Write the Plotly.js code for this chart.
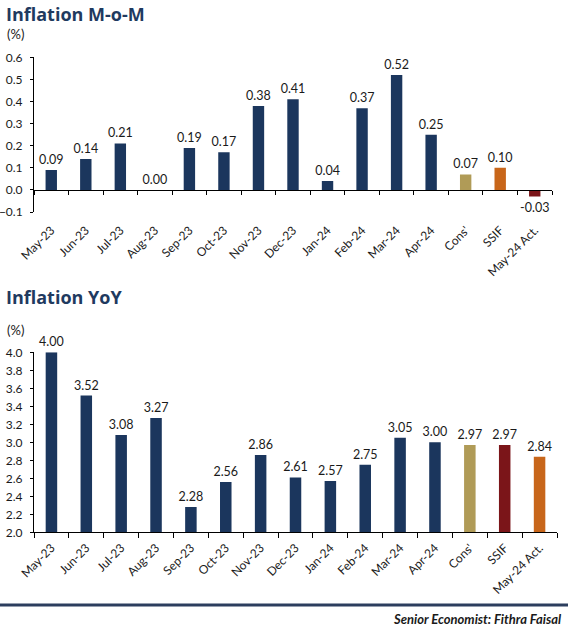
<!DOCTYPE html>
<html>
<head>
<meta charset="utf-8">
<script src="https://cdn.plot.ly/plotly-3.0.1.min.js"></script>
<style>
html,body{margin:0;padding:0;background:#fff;}
#chart{width:579px;height:629px;}
</style>
</head>
<body>
<div id="chart"></div>
<script>
// ---- data ----
const categories = ["May-23","Jun-23","Jul-23","Aug-23","Sep-23","Oct-23","Nov-23","Dec-23","Jan-24","Feb-24","Mar-24","Apr-24","Cons'","SSIF","May-24 Act."];
const momValues = [0.09,0.14,0.21,0.00,0.19,0.17,0.38,0.41,0.04,0.37,0.52,0.25,0.07,0.10,-0.03];
const yoyValues = [4.00,3.52,3.08,3.27,2.28,2.56,2.86,2.61,2.57,2.75,3.05,3.00,2.97,2.97,2.84];
const momColors = ["#1B365D","#1B365D","#1B365D","#1B365D","#1B365D","#1B365D","#1B365D","#1B365D","#1B365D","#1B365D","#1B365D","#1B365D","#B09B57","#C8661A","#7B1519"];
const yoyColors = ["#1B365D","#1B365D","#1B365D","#1B365D","#1B365D","#1B365D","#1B365D","#1B365D","#1B365D","#1B365D","#1B365D","#1B365D","#B09B57","#7B1519","#C8661A"];
const momRange = [-0.1, 0.6];
const yoyRange = [2.0, 4.0];

// ---- layout geometry (pixels) ----
const W = 579, H = 629;
const px = v => v / W;
const py = v => 1 - v / H;
const topDomY = [py(212), py(57.3)];
const botDomY = [py(532.3), py(352.3)];
const topDomX = [px(34), px(552)];
const botDomX = [px(34), px(557)];
const zeroPos = topDomY[0] + (0 - momRange[0]) / (momRange[1] - momRange[0]) * (topDomY[1] - topDomY[0]);

const tickFont = {family: "Lato, 'Open Sans', sans-serif", size: 12, color: "#1a1a1a"};
const labelFont = {family: "Lato, 'Open Sans', sans-serif", size: 12.5, color: "#1a1a1a"};
const titleColor = "#1F3A5F";

const traces = [
  {
    type: "bar", x: categories, y: momValues, xaxis: "x", yaxis: "y",
    marker: {color: momColors, line: {width: 0}},
    texttemplate: "%{y:.2f}", textposition: "outside", textfont: labelFont,
    constraintext: "none", cliponaxis: false, hoverinfo: "skip", showlegend: false
  },
  {
    type: "scatter", mode: "none", x: categories, y: momValues, xaxis: "x3", yaxis: "y",
    hoverinfo: "skip", showlegend: false
  },
  {
    type: "bar", x: categories, y: yoyValues, xaxis: "x2", yaxis: "y2",
    marker: {color: yoyColors, line: {width: 0}},
    texttemplate: "%{y:.2f}", textposition: "outside", textfont: labelFont,
    constraintext: "none", cliponaxis: false, hoverinfo: "skip", showlegend: false
  }
];

const catRange = [-0.5, categories.length - 0.5];

const layout = {
  width: W, height: H,
  margin: {l: 0, r: 0, t: 0, b: 0, pad: 0},
  paper_bgcolor: "#ffffff", plot_bgcolor: "#ffffff",
  bargap: 0.67,
  showlegend: false,
  font: tickFont,
  xaxis: {
    domain: topDomX, anchor: "y", type: "category", categoryorder: "array", categoryarray: categories,
    range: catRange, showline: false, ticks: "", showgrid: false, zeroline: false,
    tickangle: -45, tickfont: tickFont, ticklabelstandoff: 8, fixedrange: true
  },
  xaxis3: {
    domain: topDomX, anchor: "free", overlaying: "x", position: zeroPos,
    type: "category", categoryorder: "array", categoryarray: categories, range: catRange,
    showline: true, linecolor: "#000", linewidth: 1, ticks: "outside", tickson: "boundaries",
    ticklen: 4, tickcolor: "#000", showticklabels: false, showgrid: false, zeroline: false
  },
  yaxis: {
    domain: topDomY, anchor: "x", range: momRange, dtick: 0.1, tick0: 0, tickformat: ".1f",
    showline: true, linecolor: "#000", linewidth: 1, ticks: "outside", ticklen: 3, tickcolor: "#000",
    showgrid: false, zeroline: false, tickfont: tickFont, ticklabelstandoff: 5
  },
  xaxis2: {
    domain: botDomX, anchor: "y2", type: "category", categoryorder: "array", categoryarray: categories,
    range: catRange, showline: true, linecolor: "#000", linewidth: 1, ticks: "outside",
    tickson: "boundaries", ticklen: 5, tickcolor: "#000", showgrid: false, zeroline: false,
    tickangle: -45, tickfont: tickFont, ticklabelstandoff: 3
  },
  yaxis2: {
    domain: botDomY, anchor: "x2", range: yoyRange, dtick: 0.2, tick0: 2, tickformat: ".1f",
    showline: true, linecolor: "#000", linewidth: 1, ticks: "outside", ticklen: 3, tickcolor: "#000",
    showgrid: false, zeroline: false, tickfont: tickFont, ticklabelstandoff: 5
  },
  annotations: [
    {text: "<b>Inflation M-o-M</b>", xref: "paper", yref: "paper", x: px(5), y: py(14), xanchor: "left", yanchor: "middle",
     showarrow: false, font: {family: "'Open Sans', sans-serif", size: 18, color: titleColor}, borderpad: 0},
    {text: "(%)", xref: "paper", yref: "paper", x: px(6), y: py(34), xanchor: "left", yanchor: "middle",
     showarrow: false, font: {family: "Lato, sans-serif", size: 13, color: "#1a1a1a"}, borderpad: 0},
    {text: "<b>Inflation YoY</b>", xref: "paper", yref: "paper", x: px(5), y: py(297), xanchor: "left", yanchor: "middle",
     showarrow: false, font: {family: "'Open Sans', sans-serif", size: 18, color: titleColor}, borderpad: 0},
    {text: "(%)", xref: "paper", yref: "paper", x: px(6), y: py(330), xanchor: "left", yanchor: "middle",
     showarrow: false, font: {family: "Lato, sans-serif", size: 13, color: "#1a1a1a"}, borderpad: 0},
    {text: "<b><i>Senior Economist: Fithra Faisal</i></b>", xref: "paper", yref: "paper", x: px(563), y: py(619),
     xanchor: "right", yanchor: "middle", showarrow: false,
     font: {family: "Lato, sans-serif", size: 13, color: "#1a1a1a"}, borderpad: 0}
  ],
  shapes: [
    {type: "line", xref: "paper", yref: "paper", x0: 0, x1: px(568), y0: py(605), y1: py(605),
     line: {color: "#2C3E5E", width: 3}}
  ]
};

Plotly.newPlot("chart", traces, layout, {staticPlot: true, displayModeBar: false});
</script>
</body>
</html>
